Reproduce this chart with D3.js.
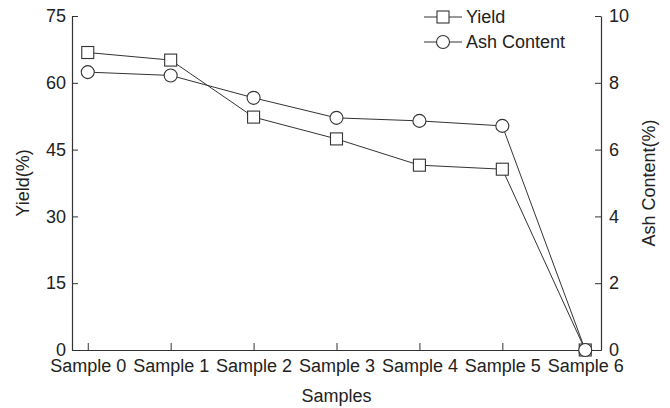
<!DOCTYPE html>
<html>
<head>
<meta charset="utf-8">
<script src="https://cdn.jsdelivr.net/npm/d3@7"></script>
<style>
  body { margin: 0; background: #fff; }
  text { font-family: "Liberation Sans", Arial, sans-serif; fill: #222; }
</style>
</head>
<body>
<svg width="670" height="408"></svg>
<script>
const samples = ["Sample 0", "Sample 1", "Sample 2", "Sample 3", "Sample 4", "Sample 5", "Sample 6"];
const yieldValues = [66.8, 65.1, 52.3, 47.4, 41.5, 40.6, 0];
const ashValues = [8.32, 8.22, 7.55, 6.95, 6.86, 6.71, 0];
const yieldTicks = [0, 15, 30, 45, 60, 75];
const ashTicks = [0, 2, 4, 6, 8, 10];

const svg = d3.select("svg"),
  width = +svg.attr("width"),
  height = +svg.attr("height");

const ink = "#333";
const fontSize = "18px";

// marco del gráfico
const plot = { left: 72, right: 601, top: 16, bottom: 350 };

const x = d3.scalePoint()
  .domain(samples)
  .range([plot.left, plot.right])
  .padding(0.19);

const yLeft = d3.scaleLinear().domain([0, 75]).range([plot.bottom, plot.top]);
const yRight = d3.scaleLinear().domain([0, 10]).range([plot.bottom, plot.top]);

// Ejes
const gx = svg.append("g")
  .attr("transform", `translate(0, ${plot.bottom})`)
  .call(d3.axisBottom(x).tickSizeInner(-7).tickSizeOuter(0).tickPadding(9));

const gl = svg.append("g")
  .attr("transform", `translate(${plot.left}, 0)`)
  .call(d3.axisLeft(yLeft).tickValues(yieldTicks).tickSizeInner(-6).tickSizeOuter(0).tickPadding(6));

const gr = svg.append("g")
  .attr("transform", `translate(${plot.right}, 0)`)
  .call(d3.axisRight(yRight).tickValues(ashTicks).tickSizeInner(-6).tickSizeOuter(0).tickPadding(8));

[gx, gl, gr].forEach(g => {
  g.select(".domain").attr("stroke", ink).attr("stroke-width", 1.2);
  g.selectAll(".tick line").attr("stroke", ink);
  g.selectAll(".tick text").style("font-size", fontSize).attr("fill", "#222");
  g.attr("font-family", null);
});

// Títulos de ejes
svg.append("text")
  .attr("x", (plot.left + plot.right) / 2)
  .attr("y", 402)
  .attr("text-anchor", "middle")
  .style("font-size", fontSize)
  .text("Samples");

svg.append("text")
  .attr("transform", "rotate(-90)")
  .attr("x", -183)
  .attr("y", 29)
  .attr("text-anchor", "middle")
  .style("font-size", fontSize)
  .text("Yield(%)");

svg.append("text")
  .attr("transform", "rotate(-90)")
  .attr("x", -183)
  .attr("y", 655)
  .attr("text-anchor", "middle")
  .style("font-size", fontSize)
  .text("Ash Content(%)");

// Series
const yieldLine = d3.line()
  .x((d, i) => x(samples[i]))
  .y(d => yLeft(d));

const ashLine = d3.line()
  .x((d, i) => x(samples[i]))
  .y(d => yRight(d));

svg.append("path")
  .datum(yieldValues)
  .attr("fill", "none")
  .attr("stroke", ink)
  .attr("stroke-width", 1)
  .attr("d", yieldLine);

svg.append("path")
  .datum(ashValues)
  .attr("fill", "none")
  .attr("stroke", ink)
  .attr("stroke-width", 1)
  .attr("d", ashLine);

const sq = 12, r = 6.5;

svg.selectAll("rect.yield")
  .data(yieldValues)
  .join("rect")
  .attr("class", "yield")
  .attr("x", (d, i) => x(samples[i]) - sq / 2)
  .attr("y", d => yLeft(d) - sq / 2)
  .attr("width", sq)
  .attr("height", sq)
  .attr("fill", "#fff")
  .attr("stroke", ink)
  .attr("stroke-width", 1.1);

svg.selectAll("circle.ash")
  .data(ashValues)
  .join("circle")
  .attr("class", "ash")
  .attr("cx", (d, i) => x(samples[i]))
  .attr("cy", d => yRight(d))
  .attr("r", r)
  .attr("fill", "#fff")
  .attr("stroke", ink)
  .attr("stroke-width", 1.1);

// Leyenda
const legend = svg.append("g").attr("transform", "translate(424, 0)");
const items = [
  { name: "Yield", shape: "square", y: 17 },
  { name: "Ash Content", shape: "circle", y: 42 }
];
items.forEach(it => {
  const g = legend.append("g").attr("transform", `translate(0, ${it.y})`);
  g.append("line").attr("x1", 0).attr("x2", 38).attr("stroke", ink);
  if (it.shape === "square") {
    g.append("rect").attr("x", 19 - sq / 2).attr("y", -sq / 2).attr("width", sq).attr("height", sq)
      .attr("fill", "#fff").attr("stroke", ink).attr("stroke-width", 1.1);
  } else {
    g.append("circle").attr("cx", 19).attr("r", r)
      .attr("fill", "#fff").attr("stroke", ink).attr("stroke-width", 1.1);
  }
  g.append("text").attr("x", 42).attr("dy", "0.35em").style("font-size", fontSize).text(it.name);
});
</script>
</body>
</html>
